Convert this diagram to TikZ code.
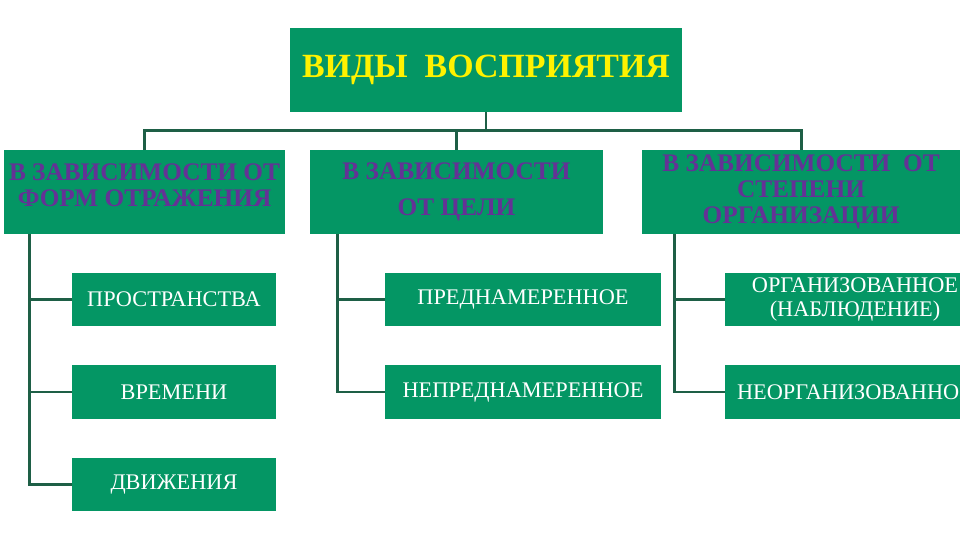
\documentclass[tikz,border=0pt]{standalone}
\usepackage{fontspec}
\setmainfont{Liberation Serif}
\definecolor{boxgreen}{RGB}{4,150,100}
\definecolor{linegreen}{RGB}{30,95,70}
\definecolor{headviolet}{RGB}{100,50,150}
\begin{document}
\begin{tikzpicture}[x=0.02cm,y=-0.02cm,
    box/.style={fill=boxgreen,inner sep=0pt,align=center},
    titlebox/.style={box,minimum width=392*0.02cm,minimum height=84*0.02cm,
      text=yellow,font=\fontsize{19.3}{21}\selectfont\bfseries},
    headbox/.style={box,minimum height=84*0.02cm,
      text=headviolet,font=\fontsize{14.4}{14.7}\selectfont\bfseries},
    itembox/.style={box,minimum height=53*0.02cm,
      text=white,font=\fontsize{12.7}{13.6}\selectfont},
    link/.style={draw=linegreen,line width=1.7pt}]
  \useasboundingbox (0,0) rectangle (960,540);
  \node[titlebox] (root) at (486,70) {ВИДЫ\ \ ВОСПРИЯТИЯ};
  \node[headbox,minimum width=281*0.02cm] (formy) at (144.5,192)
    {В ЗАВИСИМОСТИ ОТ\\ФОРМ ОТРАЖЕНИЯ\\[-6.5pt]};
  \node[headbox,minimum width=293*0.02cm] (tsel) at (456.5,192)
    {В ЗАВИСИМОСТИ\\[5.7pt]ОТ ЦЕЛИ};
  \node[headbox,minimum width=318*0.02cm] (stepen) at (801,192)
    {В ЗАВИСИМОСТИ\ \ ОТ\\СТЕПЕНИ\\ОРГАНИЗАЦИИ};
  \node[itembox,minimum width=204*0.02cm] (prostr) at (174,299.5) {ПРОСТРАНСТВА};
  \node[itembox,minimum width=204*0.02cm] (vremya) at (174,392) {ВРЕМЕНИ};
  \node[itembox,minimum width=204*0.02cm] (dvizh) at (174,484.5) {ДВИЖЕНИЯ};
  \node[itembox,minimum width=276*0.02cm] (prednam) at (523,299.5) {ПРЕДНАМЕРЕННОЕ};
  \node[itembox,minimum width=276*0.02cm] (neprednam) at (523,392) {НЕПРЕДНАМЕРЕННОЕ};
  \node[itembox,minimum width=260*0.02cm] (organiz) at (855,299.5)
    {ОРГАНИЗОВАННОЕ\\(НАБЛЮДЕНИЕ)};
  \node[itembox,minimum width=260*0.02cm] (neorganiz) at (855,392) {НЕОРГАНИЗОВАННОЕ};
  \draw[link] (root.south) -- ++(0,19);
  \draw[link] (formy.north) -- ++(0,-19) -| (stepen.north);
  \draw[link] (tsel.north) -- ++(0,-19);
  \draw[link] (formy.south west) ++(26,0) |- (dvizh.west);
  \draw[link] (prostr.west) -- ++(-42,0);
  \draw[link] (vremya.west) -- ++(-42,0);
  \draw[link] (tsel.south west) ++(28,0) |- (neprednam.west);
  \draw[link] (prednam.west) -- ++(-47,0);
  \draw[link] (stepen.south west) ++(33,0) |- (neorganiz.west);
  \draw[link] (organiz.west) -- ++(-50,0);
\end{tikzpicture}
\end{document}
